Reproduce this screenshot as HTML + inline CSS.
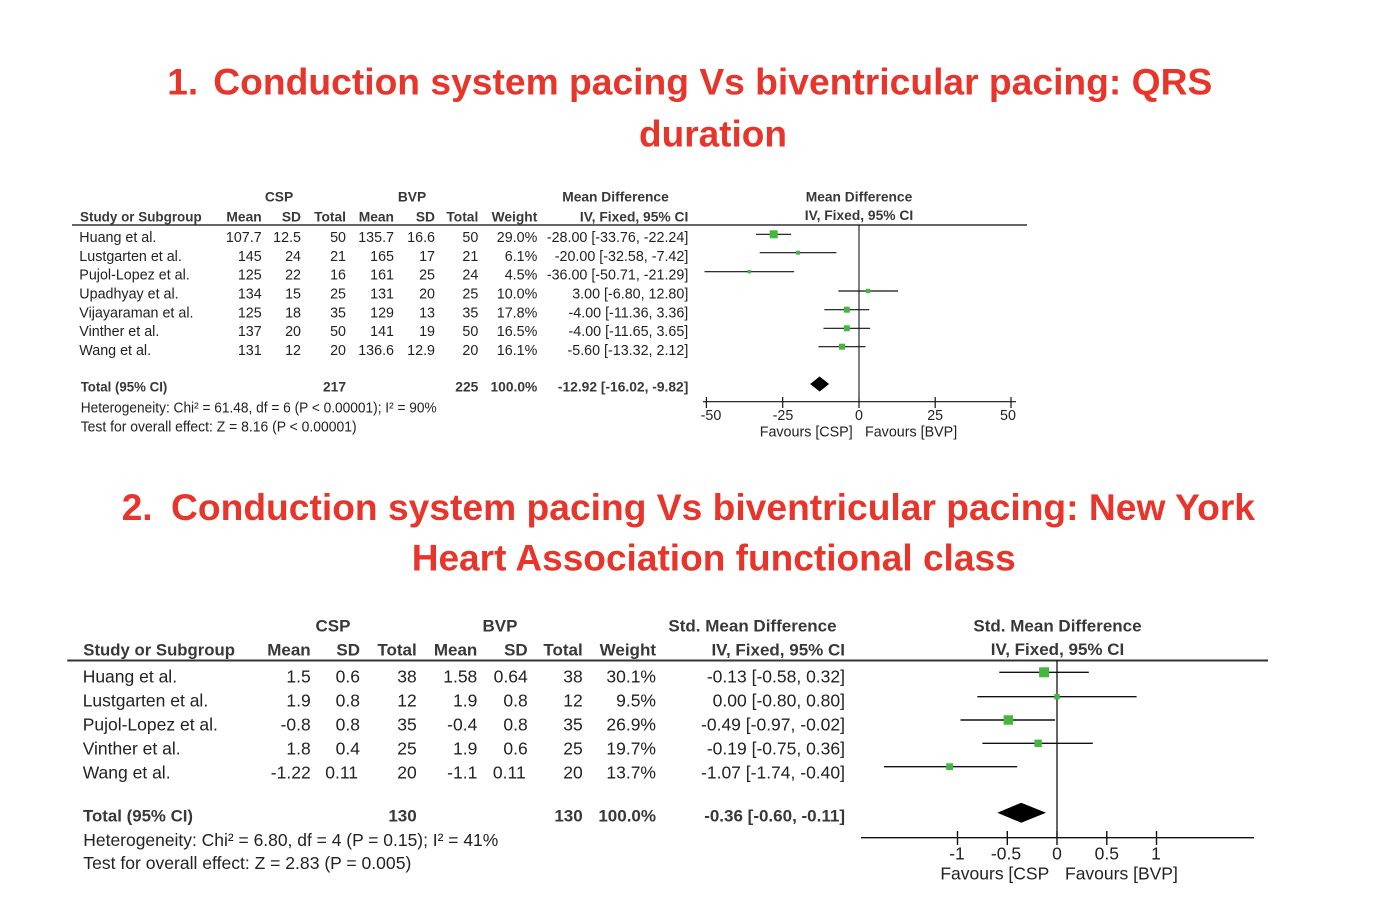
<!DOCTYPE html>
<html><head><meta charset="utf-8"><style>
html,body{margin:0;padding:0;background:#fff;}
svg{display:block;}
.t{font-family:"Liberation Sans",Arial,sans-serif;font-weight:bold;fill:#e8352b;font-size:37px;}
.r1{font-family:"Liberation Sans",Arial,sans-serif;font-size:14.3px;fill:#222;}
.b1{font-family:"Liberation Sans",Arial,sans-serif;font-size:13.8px;font-weight:bold;fill:#383838;}
.r2{font-family:"Liberation Sans",Arial,sans-serif;font-size:17.5px;fill:#222;}
.b2{font-family:"Liberation Sans",Arial,sans-serif;font-size:17px;font-weight:bold;fill:#383838;}
.e{text-anchor:end;}
.m{text-anchor:middle;}
</style></head><body>
<svg width="1376" height="922" viewBox="0 0 1376 922" xmlns="http://www.w3.org/2000/svg">
<rect width="1376" height="922" fill="#fff"/>
<!-- Titles -->
<text class="t" x="167.3" y="94.3">1.</text>
<text class="t" x="213.3" y="94.3" textLength="999" lengthAdjust="spacingAndGlyphs">Conduction system pacing Vs biventricular pacing: QRS</text>
<text class="t m" x="713" y="146.5">duration</text>
<text class="t" x="121.7" y="520">2.</text>
<text class="t" x="171" y="520" textLength="1084" lengthAdjust="spacingAndGlyphs">Conduction system pacing Vs biventricular pacing: New York</text>
<text class="t" x="411.7" y="570.7" textLength="604" lengthAdjust="spacingAndGlyphs">Heart Association functional class</text>

<!-- ===== TOP TABLE ===== -->
<text class="b1 m" x="279" y="201.7">CSP</text>
<text class="b1 m" x="412" y="201.7">BVP</text>
<text class="b1 m" x="615.5" y="201.7">Mean Difference</text>
<text class="b1" x="80" y="221.7" textLength="121.7" lengthAdjust="spacingAndGlyphs">Study or Subgroup</text>
<text class="b1 e" x="261.7" y="221.7">Mean</text>
<text class="b1 e" x="301" y="221.7">SD</text>
<text class="b1 e" x="346" y="221.7">Total</text>
<text class="b1 e" x="394" y="221.7">Mean</text>
<text class="b1 e" x="435" y="221.7">SD</text>
<text class="b1 e" x="478.3" y="221.7">Total</text>
<text class="b1 e" x="537.3" y="221.7">Weight</text>
<text class="b1 e" x="688.3" y="221.7">IV, Fixed, 95% CI</text>
<text class="b1 m" x="859" y="201.7">Mean Difference</text>
<text class="b1 m" x="859" y="220">IV, Fixed, 95% CI</text>
<line x1="72" y1="225" x2="1027" y2="225" stroke="#333" stroke-width="1.5"/>

<g class="r1">
<text x="79.3" y="242">Huang et al.</text>
<text x="79.3" y="260.8">Lustgarten et al.</text>
<text x="79.3" y="279.7">Pujol-Lopez et al.</text>
<text x="79.3" y="298.5">Upadhyay et al.</text>
<text x="79.3" y="317.3">Vijayaraman et al.</text>
<text x="79.3" y="336.2">Vinther et al.</text>
<text x="79.3" y="355">Wang et al.</text>
</g>
<g class="r1 e">
<text x="261.7" y="242">107.7</text><text x="301" y="242">12.5</text><text x="346" y="242">50</text><text x="394" y="242">135.7</text><text x="435" y="242">16.6</text><text x="478.3" y="242">50</text><text x="537.3" y="242">29.0%</text><text x="688.3" y="242">-28.00 [-33.76, -22.24]</text>
<text x="261.7" y="260.8">145</text><text x="301" y="260.8">24</text><text x="346" y="260.8">21</text><text x="394" y="260.8">165</text><text x="435" y="260.8">17</text><text x="478.3" y="260.8">21</text><text x="537.3" y="260.8">6.1%</text><text x="688.3" y="260.8">-20.00 [-32.58, -7.42]</text>
<text x="261.7" y="279.7">125</text><text x="301" y="279.7">22</text><text x="346" y="279.7">16</text><text x="394" y="279.7">161</text><text x="435" y="279.7">25</text><text x="478.3" y="279.7">24</text><text x="537.3" y="279.7">4.5%</text><text x="688.3" y="279.7">-36.00 [-50.71, -21.29]</text>
<text x="261.7" y="298.5">134</text><text x="301" y="298.5">15</text><text x="346" y="298.5">25</text><text x="394" y="298.5">131</text><text x="435" y="298.5">20</text><text x="478.3" y="298.5">25</text><text x="537.3" y="298.5">10.0%</text><text x="688.3" y="298.5">3.00 [-6.80, 12.80]</text>
<text x="261.7" y="317.3">125</text><text x="301" y="317.3">18</text><text x="346" y="317.3">35</text><text x="394" y="317.3">129</text><text x="435" y="317.3">13</text><text x="478.3" y="317.3">35</text><text x="537.3" y="317.3">17.8%</text><text x="688.3" y="317.3">-4.00 [-11.36, 3.36]</text>
<text x="261.7" y="336.2">137</text><text x="301" y="336.2">20</text><text x="346" y="336.2">50</text><text x="394" y="336.2">141</text><text x="435" y="336.2">19</text><text x="478.3" y="336.2">50</text><text x="537.3" y="336.2">16.5%</text><text x="688.3" y="336.2">-4.00 [-11.65, 3.65]</text>
<text x="261.7" y="355">131</text><text x="301" y="355">12</text><text x="346" y="355">20</text><text x="394" y="355">136.6</text><text x="435" y="355">12.9</text><text x="478.3" y="355">20</text><text x="537.3" y="355">16.1%</text><text x="688.3" y="355">-5.60 [-13.32, 2.12]</text>
</g>
<text class="b1" x="80.7" y="391.7" textLength="86.6" lengthAdjust="spacingAndGlyphs">Total (95% CI)</text>
<text class="b1 e" x="346" y="391.7">217</text>
<text class="b1 e" x="478.3" y="391.7">225</text>
<text class="b1 e" x="537.3" y="391.7">100.0%</text>
<text class="b1 e" x="688.3" y="391.7">-12.92 [-16.02, -9.82]</text>
<text class="r1" x="80.7" y="412.7" textLength="356" lengthAdjust="spacingAndGlyphs">Heterogeneity: Chi² = 61.48, df = 6 (P &lt; 0.00001); I² = 90%</text>
<text class="r1" x="80.7" y="431.7" textLength="276" lengthAdjust="spacingAndGlyphs">Test for overall effect: Z = 8.16 (P &lt; 0.00001)</text>

<!-- top plot -->
<line x1="859" y1="225" x2="859" y2="401.7" stroke="#000" stroke-width="1"/>
<g stroke="#111" stroke-width="1.2">
<line x1="756.1" y1="234.3" x2="791.2" y2="234.3"/>
<line x1="759.7" y1="252.7" x2="836.4" y2="252.7"/>
<line x1="704.5" y1="271.7" x2="794.1" y2="271.7"/>
<line x1="838.3" y1="291" x2="898" y2="291"/>
<line x1="824.4" y1="309.7" x2="869.2" y2="309.7"/>
<line x1="823.5" y1="328.3" x2="870.1" y2="328.3"/>
<line x1="818.4" y1="346.7" x2="865.5" y2="346.7"/>
</g>
<g fill="#44b83c">
<rect x="769.7" y="230.3" width="8" height="8"/>
<rect x="796.1" y="250.7" width="4" height="4"/>
<rect x="747.6" y="270" width="3.4" height="3.4"/>
<rect x="865.9" y="288.8" width="4.4" height="4.4"/>
<rect x="843.8" y="306.7" width="6" height="6"/>
<rect x="843.8" y="325.3" width="6" height="6"/>
<rect x="839" y="343.7" width="6" height="6"/>
</g>
<polygon points="810.2,384 819.6,376.5 829.1,384 819.6,391.5" fill="#000"/>
<line x1="703" y1="401.7" x2="1016" y2="401.7" stroke="#111" stroke-width="1.2"/>
<g stroke="#111" stroke-width="1.2">
<line x1="706.4" y1="397" x2="706.4" y2="408"/>
<line x1="782.7" y1="397" x2="782.7" y2="408"/>
<line x1="859" y1="397" x2="859" y2="408"/>
<line x1="935.2" y1="397" x2="935.2" y2="408"/>
<line x1="1011" y1="397" x2="1011" y2="408"/>
</g>
<g class="r1 m">
<text x="711" y="420">-50</text>
<text x="783" y="420">-25</text>
<text x="859" y="420">0</text>
<text x="935.2" y="420">25</text>
<text x="1008" y="420">50</text>
</g>
<text class="r1 e" x="852.7" y="436.7">Favours [CSP]</text>
<text class="r1" x="865" y="436.7">Favours [BVP]</text>

<!-- ===== BOTTOM TABLE ===== -->
<text class="b2 m" x="333" y="631.7">CSP</text>
<text class="b2 m" x="500" y="631.7">BVP</text>
<text class="b2 m" x="752.5" y="631.7">Std. Mean Difference</text>
<text class="b2" x="83.3" y="655.7" textLength="151.7" lengthAdjust="spacingAndGlyphs">Study or Subgroup</text>
<text class="b2 e" x="310.7" y="655.7">Mean</text>
<text class="b2 e" x="360" y="655.7">SD</text>
<text class="b2 e" x="416.7" y="655.7">Total</text>
<text class="b2 e" x="477.3" y="655.7">Mean</text>
<text class="b2 e" x="527.7" y="655.7">SD</text>
<text class="b2 e" x="582.7" y="655.7">Total</text>
<text class="b2 e" x="656" y="655.7">Weight</text>
<text class="b2 e" x="845" y="655.7">IV, Fixed, 95% CI</text>
<text class="b2 m" x="1057.5" y="631.7">Std. Mean Difference</text>
<text class="b2 m" x="1057.5" y="655">IV, Fixed, 95% CI</text>
<line x1="67.3" y1="660.5" x2="1268" y2="660.5" stroke="#333" stroke-width="2"/>

<g class="r2">
<text x="82.7" y="682.7">Huang et al.</text>
<text x="82.7" y="706.6">Lustgarten et al.</text>
<text x="82.7" y="730.5">Pujol-Lopez et al.</text>
<text x="82.7" y="754.4">Vinther et al.</text>
<text x="82.7" y="778.3">Wang et al.</text>
</g>
<g class="r2 e">
<text x="310.7" y="682.7">1.5</text><text x="360" y="682.7">0.6</text><text x="416.7" y="682.7">38</text><text x="477.3" y="682.7">1.58</text><text x="527.7" y="682.7">0.64</text><text x="582.7" y="682.7">38</text><text x="656" y="682.7">30.1%</text><text x="845" y="682.7">-0.13 [-0.58, 0.32]</text>
<text x="310.7" y="706.6">1.9</text><text x="360" y="706.6">0.8</text><text x="416.7" y="706.6">12</text><text x="477.3" y="706.6">1.9</text><text x="527.7" y="706.6">0.8</text><text x="582.7" y="706.6">12</text><text x="656" y="706.6">9.5%</text><text x="845" y="706.6">0.00 [-0.80, 0.80]</text>
<text x="310.7" y="730.5">-0.8</text><text x="360" y="730.5">0.8</text><text x="416.7" y="730.5">35</text><text x="477.3" y="730.5">-0.4</text><text x="527.7" y="730.5">0.8</text><text x="582.7" y="730.5">35</text><text x="656" y="730.5">26.9%</text><text x="845" y="730.5">-0.49 [-0.97, -0.02]</text>
<text x="310.7" y="754.4">1.8</text><text x="360" y="754.4">0.4</text><text x="416.7" y="754.4">25</text><text x="477.3" y="754.4">1.9</text><text x="527.7" y="754.4">0.6</text><text x="582.7" y="754.4">25</text><text x="656" y="754.4">19.7%</text><text x="845" y="754.4">-0.19 [-0.75, 0.36]</text>
<text x="310.7" y="778.3">-1.22</text><text x="358" y="778.3">0.11</text><text x="416.7" y="778.3">20</text><text x="477.3" y="778.3">-1.1</text><text x="525.7" y="778.3">0.11</text><text x="582.7" y="778.3">20</text><text x="656" y="778.3">13.7%</text><text x="845" y="778.3">-1.07 [-1.74, -0.40]</text>
</g>
<text class="b2" x="83" y="821.7" textLength="110" lengthAdjust="spacingAndGlyphs">Total (95% CI)</text>
<text class="b2 e" x="416.7" y="821.7">130</text>
<text class="b2 e" x="582.7" y="821.7">130</text>
<text class="b2 e" x="656" y="821.7">100.0%</text>
<text class="b2 e" x="845" y="821.7">-0.36 [-0.60, -0.11]</text>
<text class="r2" x="83.3" y="846" textLength="415" lengthAdjust="spacingAndGlyphs">Heterogeneity: Chi² = 6.80, df = 4 (P = 0.15); I² = 41%</text>
<text class="r2" x="83.3" y="869" textLength="328" lengthAdjust="spacingAndGlyphs">Test for overall effect: Z = 2.83 (P = 0.005)</text>

<!-- bottom plot -->
<line x1="1057" y1="660.5" x2="1057" y2="837.7" stroke="#000" stroke-width="1.2"/>
<g stroke="#111" stroke-width="1.4">
<line x1="999.3" y1="672.3" x2="1088.8" y2="672.3"/>
<line x1="977.4" y1="696.7" x2="1136.6" y2="696.7"/>
<line x1="960.5" y1="720" x2="1055" y2="720"/>
<line x1="982.4" y1="743.3" x2="1092.8" y2="743.3"/>
<line x1="883.9" y1="766.7" x2="1017.2" y2="766.7"/>
</g>
<g fill="#44b83c">
<rect x="1039.1" y="667.3" width="10" height="10"/>
<rect x="1054.3" y="694" width="5.4" height="5.4"/>
<rect x="1003.6" y="715.3" width="9.4" height="9.4"/>
<rect x="1034.4" y="739.6" width="7.4" height="7.4"/>
<rect x="946.2" y="763.3" width="6.8" height="6.8"/>
</g>
<polygon points="997.3,812.7 1021.2,802.7 1046,812.7 1021.2,822.7" fill="#000"/>
<line x1="861" y1="837.7" x2="1254" y2="837.7" stroke="#111" stroke-width="1.4"/>
<g stroke="#111" stroke-width="1.4">
<line x1="957.5" y1="831" x2="957.5" y2="845"/>
<line x1="1007.3" y1="831" x2="1007.3" y2="845"/>
<line x1="1057" y1="831" x2="1057" y2="845"/>
<line x1="1106.8" y1="831" x2="1106.8" y2="845"/>
<line x1="1156.5" y1="831" x2="1156.5" y2="845"/>
</g>
<g class="r2 m">
<text x="957" y="859.3">-1</text>
<text x="1006" y="859.3">-0.5</text>
<text x="1057" y="859.3">0</text>
<text x="1106.8" y="859.3">0.5</text>
<text x="1156" y="859.3">1</text>
</g>
<text class="r2 e" x="1049.3" y="879.3">Favours [CSP</text>
<text class="r2" x="1065" y="879.3">Favours [BVP]</text>
</svg>
</body></html>
